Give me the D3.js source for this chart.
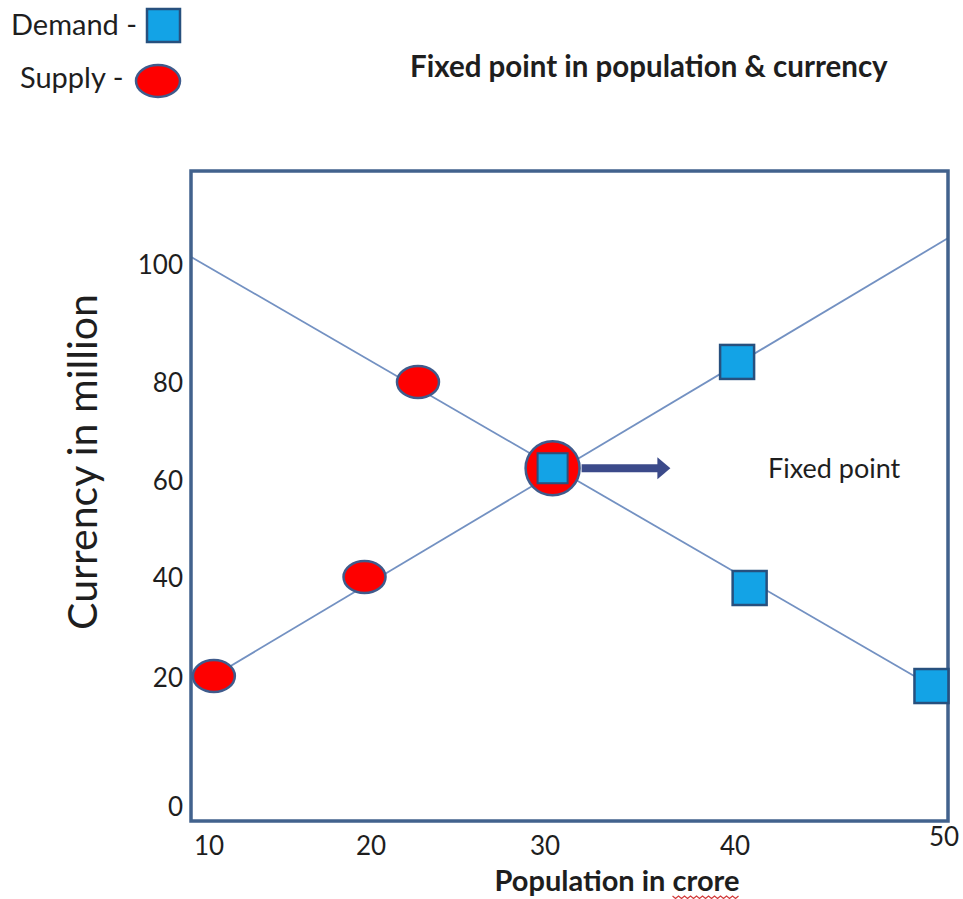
<!DOCTYPE html>
<html>
<head>
<meta charset="utf-8">
<script src="https://cdn.jsdelivr.net/npm/d3@7"></script>
<style>
  html, body { margin: 0; padding: 0; background: #fff; }
  text { font-family: Lato, "Open Sans", sans-serif; fill: #1e1e1e; }
</style>
</head>
<body>
<svg id="chart" width="963" height="899"></svg>
<script>
// Axis tick values
const xTicks = [10, 20, 30, 40, 50];
const yTicks = [0, 20, 40, 60, 80, 100];

// Supply points (population in crore, currency in million)
const supplyX = [10.3, 19.6, 22.7];
const supplyY = [20.2, 40.0, 80.0];

// Demand points
const demandX = [40.1, 40.7, 49.4];
const demandY = [83.4, 37.8, 18.6];

// The fixed point where both curves meet
const fixedX = 30.4;
const fixedY = 62.4;

// Straight guide lines (end points)
const fallingLineX = [8.9, 49.4];
const fallingLineY = [101.2, 18.6];
const risingLineX = [10.3, 50.2];
const risingLineY = [20.2, 104.4];

// Annotation arrow end (population units)
const arrowToX = 36.6;

const svg = d3.select("#chart");

// Plot frame
const frame = { left: 191, top: 171, right: 948, bottom: 821 };

// Hand-spaced axes: piecewise linear scales
const x = d3.scaleLinear()
  .domain(xTicks)
  .range([209, 371, 545, 735, 944]);
const y = d3.scaleLinear()
  .domain(yTicks)
  .range([806, 677, 577, 480, 382, 264]);

const lineColor = "#7391c2";
const frameColor = "#42628d";
const redFill = "#fe0000";
const redStroke = "#3f5b8c";
const blueFill = "#13a3e6";
const blueStroke = "#27507e";

// Guide lines
const line = d3.line().x(d => x(d[0])).y(d => y(d[1]));
svg.append("path")
  .attr("d", line(d3.zip(fallingLineX, fallingLineY)))
  .attr("fill", "none").attr("stroke", lineColor).attr("stroke-width", 1.8);
svg.append("path")
  .attr("d", line(d3.zip(risingLineX, risingLineY)))
  .attr("fill", "none").attr("stroke", lineColor).attr("stroke-width", 1.8);

// Frame
svg.append("rect")
  .attr("x", frame.left).attr("y", frame.top)
  .attr("width", frame.right - frame.left)
  .attr("height", frame.bottom - frame.top)
  .attr("fill", "none").attr("stroke", frameColor).attr("stroke-width", 3.5);

// Supply markers
svg.append("g").selectAll("ellipse")
  .data(d3.zip(supplyX, supplyY))
  .join("ellipse")
  .attr("cx", d => x(d[0])).attr("cy", d => y(d[1]))
  .attr("rx", 21).attr("ry", 16)
  .attr("fill", redFill).attr("stroke", redStroke).attr("stroke-width", 2.5);

// Demand markers
const sq = 34;
svg.append("g").selectAll("rect")
  .data(d3.zip(demandX, demandY))
  .join("rect")
  .attr("x", d => x(d[0]) - sq / 2).attr("y", d => y(d[1]) - sq / 2)
  .attr("width", sq).attr("height", sq)
  .attr("fill", blueFill).attr("stroke", blueStroke).attr("stroke-width", 2.5);

// Fixed point: circle with square inside
const fx = x(fixedX), fy = y(fixedY);
svg.append("circle")
  .attr("cx", fx).attr("cy", fy).attr("r", 27)
  .attr("fill", redFill).attr("stroke", redStroke).attr("stroke-width", 2.5);
svg.append("rect")
  .attr("x", fx - 15).attr("y", fy - 15).attr("width", 30).attr("height", 30)
  .attr("fill", blueFill).attr("stroke", blueStroke).attr("stroke-width", 2);

// Arrow pointing to the label
const ax1 = fx + 29, ax2 = x(arrowToX);
svg.append("line")
  .attr("x1", ax1).attr("y1", fy).attr("x2", ax2 - 10).attr("y2", fy)
  .attr("stroke", "#3b4a8a").attr("stroke-width", 8);
svg.append("path")
  .attr("d", `M${ax2 - 13},${fy - 11} L${ax2},${fy} L${ax2 - 13},${fy + 11} Z`)
  .attr("fill", "#3b4a8a");

svg.append("text")
  .attr("x", 768).attr("y", fy + 10)
  .attr("font-size", 27)
  .text("Fixed point");

// Tick labels
svg.append("g").selectAll("text")
  .data(xTicks)
  .join("text")
  .attr("x", d => x(d)).attr("y", d => d === 50 ? 846 : 855)
  .attr("text-anchor", "middle")
  .attr("font-size", 26)
  .text(d => d);
svg.append("g").selectAll("text")
  .data(yTicks)
  .join("text")
  .attr("x", 183).attr("y", d => y(d) + 9.5)
  .attr("text-anchor", "end")
  .attr("font-size", 26)
  .text(d => d);

// Axis titles
svg.append("text")
  .attr("transform", "translate(97,462) rotate(-90)")
  .attr("text-anchor", "middle")
  .attr("font-size", 41)
  .text("Currency in million");
const xTitle = svg.append("text")
  .attr("x", 617).attr("y", 891)
  .attr("text-anchor", "middle")
  .attr("font-size", 29).attr("font-weight", "bold")
  .text("Population in crore");
// wavy underline under "crore"
const tNode = xTitle.node();
const total = tNode.getComputedTextLength();
const croreW = tNode.getSubStringLength(14, 5);
const wEnd = 617 + total / 2, wStart = wEnd - croreW;
const wave = d3.range(0, Math.floor(croreW / 3) + 1)
  .map(i => [wStart + i * 3, 897 + (i % 2 ? 1.5 : -1)]);
svg.append("path")
  .attr("d", d3.line()(wave))
  .attr("fill", "none").attr("stroke", "#d23a3a").attr("stroke-width", 1.2);

// Title
svg.append("text")
  .attr("x", 410).attr("y", 77)
  .attr("font-size", 29.5).attr("font-weight", "bold")
  .text("Fixed point in population & currency");

// Legend
svg.append("text").attr("x", 11).attr("y", 35).attr("font-size", 29).text("Demand -");
svg.append("rect")
  .attr("x", 147).attr("y", 9).attr("width", 33).attr("height", 33)
  .attr("fill", blueFill).attr("stroke", blueStroke).attr("stroke-width", 2.5);
svg.append("text").attr("x", 20).attr("y", 88).attr("font-size", 29).text("Supply  -");
svg.append("ellipse")
  .attr("cx", 158).attr("cy", 81).attr("rx", 22).attr("ry", 16)
  .attr("fill", redFill).attr("stroke", redStroke).attr("stroke-width", 2.5);
</script>
</body>
</html>
